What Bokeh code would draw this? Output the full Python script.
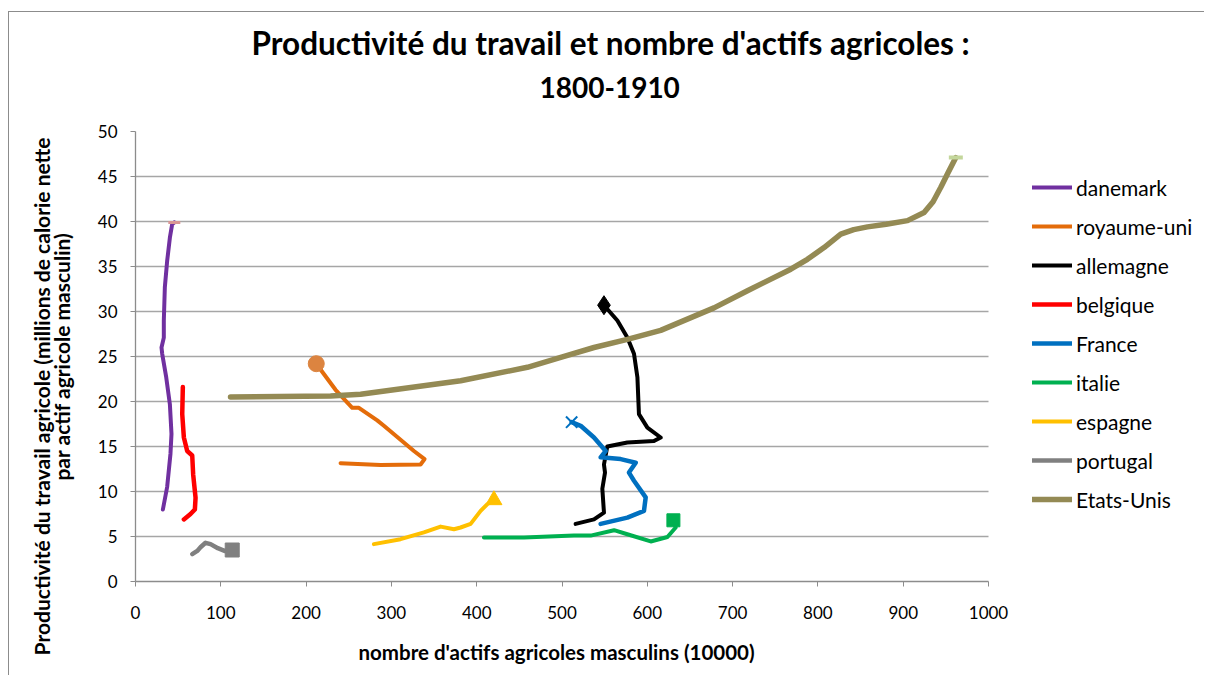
from bokeh.plotting import figure
from bokeh.models import Range1d, Legend, LegendItem, FixedTicker, Title
from bokeh.embed import file_html
from bokeh.resources import INLINE

# ---------------- data ----------------
series_names = ["danemark", "royaume-uni", "allemagne", "belgique", "France",
                "italie", "espagne", "portugal", "Etats-Unis"]

danemark_x = [32.1, 37.1, 41.0, 42.2, 40.3, 36.0, 31.3, 30.5, 33.2, 33.2, 34.4, 37.1, 40.3, 43.0, 45.5]
danemark_y = [8.0, 10.5, 14.2, 16.4, 19.7, 22.7, 25.3, 26.0, 27.1, 29.0, 32.7, 35.6, 38.2, 39.7, 39.9]

royaume_x = [240.4, 287.3, 334.2, 338.9, 326.4, 291.2, 283.4, 261.9, 254.1, 244.3, 234.5, 211.9]
royaume_y = [13.15, 12.95, 13.0, 13.6, 14.5, 17.3, 17.9, 19.3, 19.3, 20.3, 21.3, 24.2]

allemagne_x = [516.0, 537.5, 549.2, 547.3, 550.4, 549.2, 553.1, 576.6, 607.8, 615.7, 600.1,
               590.2, 588.4, 584.4, 576.6, 564.9, 549.2]
allemagne_y = [6.4, 6.9, 7.65, 10.3, 12.1, 13.0, 15.0, 15.45, 15.6, 16.0, 17.1,
               18.6, 22.7, 25.3, 27.1, 29.0, 30.7]

belgique_x = [56.7, 64.5, 69.6, 70.4, 67.6, 66.5, 60.6, 56.7, 54.8, 55.5]
belgique_y = [6.9, 7.5, 8.0, 9.3, 11.9, 14.0, 14.5, 16.0, 18.6, 21.6]

france_x = [545.3, 576.6, 596.1, 598.1, 584.4, 578.5, 586.4, 568.8, 545.3, 551.2, 537.5, 521.9, 511.3]
france_y = [6.4, 7.1, 7.85, 9.35, 11.2, 12.1, 13.2, 13.6, 13.8, 14.5, 16.0, 17.3, 17.7]

italie_x = [408.5, 455.4, 514.0, 533.6, 561.0, 576.6, 604.0, 623.6, 633.3, 630.6]
italie_y = [4.9, 4.9, 5.1, 5.1, 5.7, 5.25, 4.45, 4.95, 6.0, 6.8]

espagne_x = [279.5, 310.8, 338.1, 357.7, 373.3, 381.1, 392.9, 404.6, 412.5, 420.2]
espagne_y = [4.15, 4.7, 5.45, 6.1, 5.8, 6.0, 6.4, 7.85, 8.6, 9.05]

portugal_x = [66.5, 72.4, 76.2, 82.1, 88.0, 96.5, 104.4, 113.4]
portugal_y = [3.04, 3.4, 3.8, 4.3, 4.15, 3.7, 3.4, 3.5]

usa_x = [111.4, 228.7, 263.9, 381.2, 459.4, 498.5, 537.5, 576.6, 615.7, 678.2, 717.4,
         768.2, 787.7, 807.2, 826.8, 842.0, 858.1, 880.0, 905.0, 924.5, 935.0, 944.1, 953.0, 961.7]
usa_y = [20.5, 20.6, 20.8, 22.3, 23.8, 24.9, 26.0, 26.9, 27.9, 30.4, 32.3,
         34.7, 35.8, 37.1, 38.6, 39.1, 39.4, 39.7, 40.1, 41.0, 42.2, 43.8, 45.5, 47.1]

x_ticks = [0, 100, 200, 300, 400, 500, 600, 700, 800, 900, 1000]
y_ticks = [0, 5, 10, 15, 20, 25, 30, 35, 40, 45, 50]

title_line1 = "Productivité du travail et nombre d'actifs agricoles :"
title_line2 = "1800-1910"
x_label = "nombre d'actifs agricoles masculins (10000)"
y_label_line1 = "Productivité du travail agricole (millions de calorie nette"
y_label_line2 = "par actif agricole masculin)"

# ---------------- styles ----------------
FONT = "Lato"
colors = ["#7030A0", "#E46C0A", "#000000", "#FF0000", "#0070C0",
          "#00B050", "#FFC000", "#808080", "#948A54"]
widths = [4, 4, 4, 4.5, 4.5, 4, 4, 4.5, 5.5]
end_markers = [
    dict(marker="dash", size=12, line_color="#D99694", fill_color="#D99694", line_width=3),
    dict(marker="circle", size=16, line_color="#DC8440", fill_color="#DC8440"),
    dict(marker="diamond", size=19, line_color="#000000", fill_color="#000000"),
    None,
    dict(marker="x", size=16, line_color="#0070C0", line_width=2),
    dict(marker="square", size=13, line_color="#00B050", fill_color="#00B050"),
    dict(marker="triangle", size=16, line_color="#FFC000", fill_color="#FFC000"),
    dict(marker="square", size=14, line_color="#808080", fill_color="#808080"),
    dict(marker="dash", size=14, line_color="#C3D69B", fill_color="#C3D69B", line_width=4),
]

xs = [danemark_x, royaume_x, allemagne_x, belgique_x, france_x, italie_x, espagne_x, portugal_x, usa_x]
ys = [danemark_y, royaume_y, allemagne_y, belgique_y, france_y, italie_y, espagne_y, portugal_y, usa_y]

# layout: figure canvas starts at x=9, y=12 (margin + border)
W, H = 1196, 664
BL, BR, BT, BB = 126, 5, 119, 95
FRAME_W = W - BL - BR
X_AXIS_PX = 853                       # pixels spanned by 0..1000 on the x axis
x_end = 1000 * FRAME_W / X_AXIS_PX   # frame extends right to hold the legend

p = figure(width=W, height=H, output_backend="svg", toolbar_location=None,
           x_range=Range1d(0, x_end), y_range=Range1d(0, 50),
           min_border_left=BL, min_border_right=BR, min_border_top=BT, min_border_bottom=BB)
p.styles = {"border-left": "1px solid #8c8c8c", "border-top": "1px solid #8c8c8c",
            "margin-left": "8px", "margin-top": "11px"}
p.outline_line_color = None
p.background_fill_color = "white"
p.border_fill_color = "white"

p.xgrid.grid_line_color = None
p.ygrid.grid_line_color = "#a6a6a6"
p.ygrid.grid_line_width = 1.3
p.ygrid.cross_bounds = (0, 1000)

p.xaxis.ticker = FixedTicker(ticks=x_ticks)
p.yaxis.ticker = FixedTicker(ticks=y_ticks)
p.xaxis.bounds = (0, 1000)
for ax in (p.xaxis[0], p.yaxis[0]):
    ax.axis_line_color = "#8c8c8c"
    ax.axis_line_width = 1.3
    ax.major_tick_line_color = "#8c8c8c"
    ax.major_tick_out = 5
    ax.major_tick_in = 0
    ax.minor_tick_line_color = None
    ax.major_label_text_font = FONT
    ax.major_label_text_font_size = "17px"
    ax.major_label_text_color = "#000000"

# second line of the y title is the axis label; the first line sits further left
p.yaxis.axis_label = y_label_line2
p.yaxis.axis_label_text_font = FONT
p.yaxis.axis_label_text_font_style = "bold"
p.yaxis.axis_label_text_color = "#000000"
p.yaxis.axis_label_text_font_size = "21px"
p.xaxis.major_label_standoff = 19
p.yaxis.major_label_standoff = 13
p.yaxis.axis_label_standoff = 21

p.add_layout(Title(text=y_label_line1, align="right", offset=6, standoff=-16,
                   text_font=FONT, text_font_style="bold", text_font_size="21px",
                   text_color="#000000"), "left")

items = []
for name, x, y, c, w, m in zip(series_names, xs, ys, colors, widths, end_markers):
    r = p.line(x, y, line_color=c, line_width=w, line_join="round", line_cap="round")
    items.append(LegendItem(label=name, renderers=[r]))
    if m is not None:
        p.scatter([x[-1]], [y[-1]], **m)

legend = Legend(items=items, location=(897, 69), orientation="vertical",
                glyph_width=40, glyph_height=26, label_height=26, spacing=13,
                label_standoff=4, padding=0, margin=0,
                border_line_color=None, background_fill_alpha=0,
                label_text_font=FONT, label_text_font_size="21px", label_text_color="#000000")
p.add_layout(legend)

# title: spacer (nearest the frame), then the two lines
p.add_layout(Title(text=" ", text_font_size="10px", standoff=8), "above")
p.add_layout(Title(text=title_line2, align="left", offset=404, standoff=26,
                   text_font=FONT, text_font_style="bold", text_font_size="28px",
                   text_color="#000000"), "above")
p.add_layout(Title(text=title_line1, align="left", offset=116, standoff=0,
                   text_font=FONT, text_font_style="bold", text_font_size="31.5px",
                   text_color="#000000"), "above")

# x axis title, placed below the tick labels (centred on the 0..1000 span)
p.add_layout(Title(text=" ", text_font_size="10px", standoff=3), "below")
p.add_layout(Title(text=x_label, align="left", offset=223, standoff=0,
                   text_font=FONT, text_font_style="bold", text_font_size="20.5px",
                   text_color="#000000"), "below")

open("out.html", "w").write(file_html(p, INLINE))
